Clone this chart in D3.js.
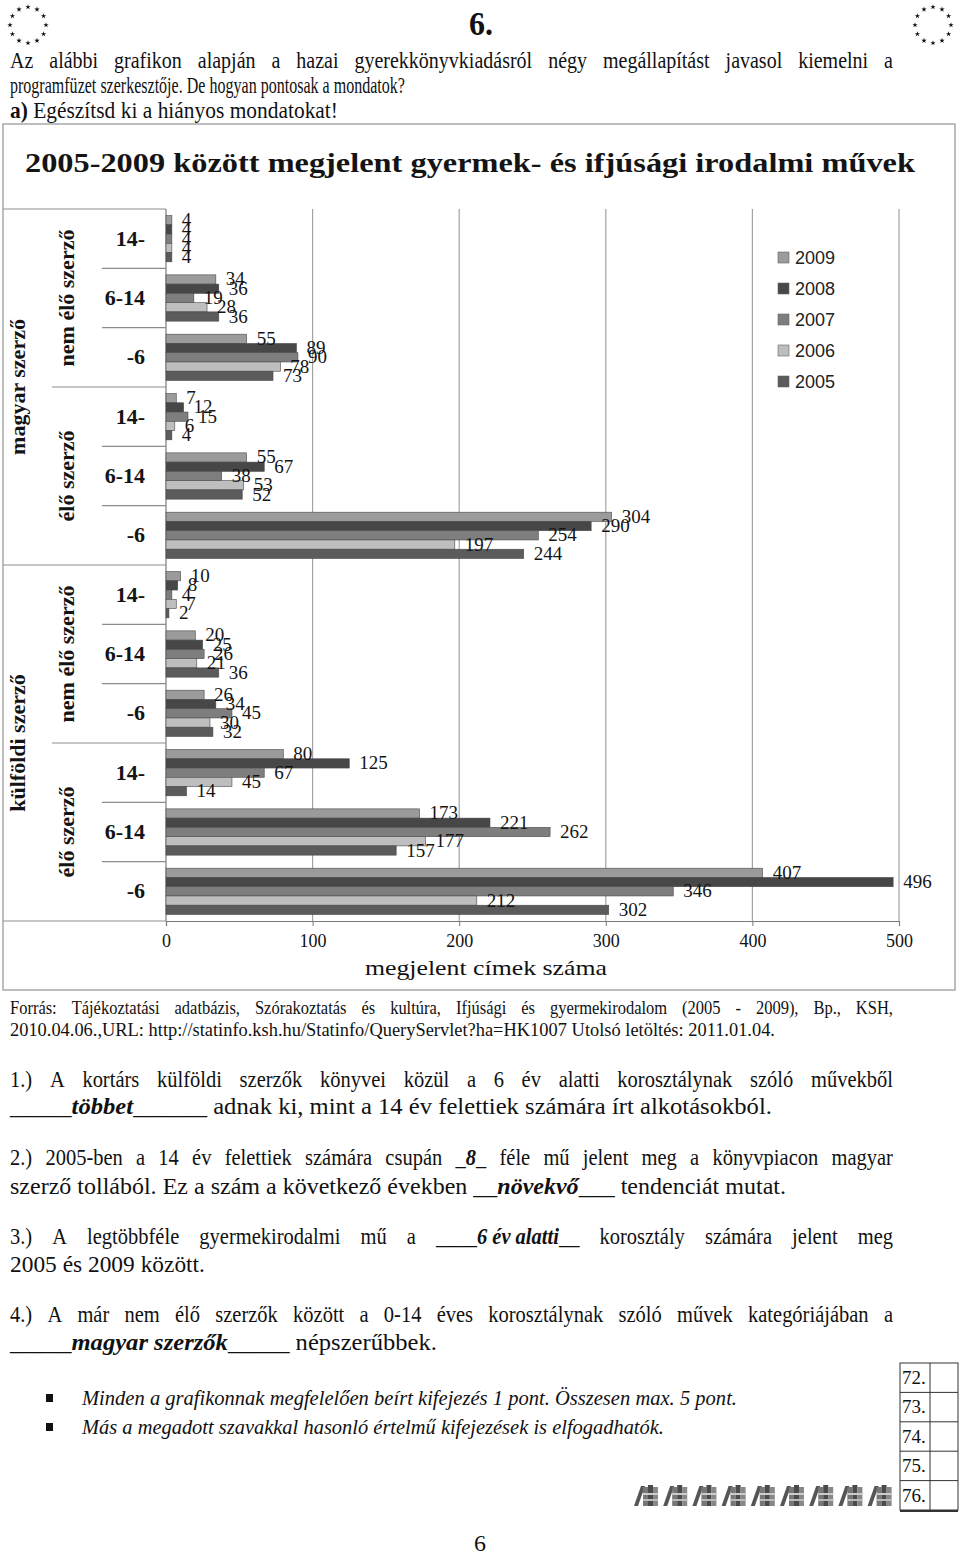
<!DOCTYPE html>
<html><head><meta charset="utf-8">
<script src="https://cdn.jsdelivr.net/npm/d3@7"></script>
<style>body{margin:0;background:#fff}svg{display:block}</style>
</head><body>
<script>
// ---------- data ----------
const years = ["2009", "2008", "2007", "2006", "2005"];
const authorGroups = ["magyar szerző", "külföldi szerző"];
const lifeGroups = ["nem élő szerző", "élő szerző"];
const ageGroups = ["14-", "6-14", "-6"];
// order of rows: magyar/nem élő(14-,6-14,-6), magyar/élő(...), külföldi/nem élő(...), külföldi/élő(...)
const values2009 = [4, 34, 55, 7, 55, 304, 10, 20, 26, 80, 173, 407];
const values2008 = [4, 36, 89, 12, 67, 290, 8, 25, 34, 125, 221, 496];
const values2007 = [4, 19, 90, 15, 38, 254, 4, 26, 45, 67, 262, 346];
const values2006 = [4, 28, 78, 6, 53, 197, 7, 21, 30, 45, 177, 212];
const values2005 = [4, 36, 73, 4, 52, 244, 2, 36, 32, 14, 157, 302];
const xTickValues = [0, 100, 200, 300, 400, 500];
const scoreLabels = ["72.", "73.", "74.", "75.", "76."];

const chartTitle = "2005-2009 között megjelent gyermek- és ifjúsági irodalmi művek";
const axisTitle = "megjelent címek száma";

// ---------- setup ----------
const W = 960, H = 1558;
const serif = "'Liberation Serif','Times New Roman',serif";
const sans = "'Liberation Sans',Arial,sans-serif";
const svg = d3.select("body").append("svg").attr("width", W).attr("height", H);
svg.append("rect").attr("width", W).attr("height", H).attr("fill", "#fff");

const yearColors = d3.scaleOrdinal().domain(years)
  .range(["#9b9b9b", "#474747", "#7e7e7e", "#bebebe", "#5b5b5b"]);
const seriesValues = [values2009, values2008, values2007, values2006, values2005];
const series = years.map((yr, i) => ({ year: yr, values: seriesValues[i] }));

const rows = [];
authorGroups.forEach(a => lifeGroups.forEach(l => ageGroups.forEach(g => rows.push({ a, l, g }))));

// ---------- text helper ----------
function parseWord(w) {
  const parts = [];
  const re = /(\{[^}]*\}|\[[^\]]*\])/;
  w.split(re).forEach(p => {
    if (!p) return;
    if (p[0] === "{") parts.push({ t: p.slice(1, -1).replace(/~/g, " "), b: true, i: true });
    else if (p[0] === "[") parts.push({ t: p.slice(1, -1).replace(/~/g, " "), b: true, i: false });
    else parts.push({ t: p.replace(/~/g, " "), b: false, i: false });
  });
  return parts;
}
function textLine(o) {
  const size = o.size, sy = o.sy || 1;
  const words = o.text.split(" ").map(parseWord);
  const t = svg.append("text")
    .attr("font-family", o.family || serif)
    .attr("font-size", size)
    .attr("font-style", o.italic ? "italic" : "normal")
    .attr("font-weight", o.bold ? "bold" : "normal")
    .attr("fill", o.color || "#111");
  const wordInfo = words.map(parts => {
    const spans = parts.map(p => {
      const s = t.append("tspan").text(p.t);
      if (p.b) s.attr("font-weight", "bold");
      if (p.i) s.attr("font-style", "italic");
      return { s, w: s.node().getComputedTextLength() };
    });
    return { spans, w: d3.sum(spans, d => d.w) };
  });
  const sum = d3.sum(wordInfo, d => d.w);
  const n = wordInfo.length;
  let gap = size * 0.25, sx = 1;
  if (o.justify && n > 1) {
    gap = (o.x1 - o.x0 - sum) / (n - 1);
    if (gap < size * 0.15) { gap = size * 0.15; sx = (o.x1 - o.x0) / (sum + gap * (n - 1)); }
  } else if (o.x1 != null) {
    sx = (o.x1 - o.x0) / (sum + gap * (n - 1));
  }
  let cx = 0;
  wordInfo.forEach(wi => {
    let px = cx;
    wi.spans.forEach(sp => { sp.s.attr("x", px).attr("y", 0); px += sp.w; });
    cx += wi.w + gap;
  });
  t.attr("transform", `translate(${o.x0},${o.y}) scale(${sx},${sy})`);
  return t;
}

// ---------- EU star logos ----------
[[28, 25], [933, 25]].forEach(([cx, cy]) => {
  d3.range(12).forEach(k => {
    const a = k * Math.PI / 6;
    svg.append("path").attr("d", d3.symbol(d3.symbolStar).size(9)())
      .attr("transform", `translate(${cx + 18 * Math.sin(a)},${cy - 18 * Math.cos(a)})`)
      .attr("fill", "#111");
  });
});

// ---------- page header ----------
textLine({ text: "[6.]", x0: 469, x1: 493, y: 35, size: 28, sy: 1.2 });
textLine({ text: "Az alábbi grafikon alapján a hazai gyerekkönyvkiadásról négy megállapítást javasol kiemelni a", x0: 10, x1: 893, y: 68, size: 20, sy: 1.15, justify: true });
textLine({ text: "programfüzet szerkesztője. De hogyan pontosak a mondatok?", x0: 10, x1: 405, y: 93, size: 20, sy: 1.15 });
textLine({ text: "[a)] Egészítsd ki a hiányos mondatokat!", x0: 10, x1: 338, y: 118, size: 20, sy: 1.15 });

// ---------- chart frame ----------
svg.append("rect").attr("x", 3).attr("y", 124).attr("width", 952).attr("height", 866)
  .attr("fill", "#fff").attr("stroke", "#a9a9a9").attr("stroke-width", 1.5);

textLine({ text: chartTitle, x0: 25, x1: 915, y: 172, size: 27, bold: true, color: "#141414" });

// ---------- scales ----------
const x = d3.scaleLinear().domain([0, 500]).range([166, 899]);
const y = d3.scaleBand().domain(d3.range(rows.length)).range([209, 921])
  .paddingInner(0.22).paddingOuter(0.11);
const yy = d3.scaleBand().domain(years).range([0, y.bandwidth()]);
const step = y.step();
const rowTop = i => 209 + i * step;

// gridlines
svg.append("g").selectAll("line").data(xTickValues.filter(v => v > 0)).join("line")
  .attr("x1", d => x(d)).attr("x2", d => x(d)).attr("y1", 209).attr("y2", 921)
  .attr("stroke", "#a3a3a3").attr("stroke-width", 1.2);

// x axis
const xAxis = svg.append("g").attr("transform", "translate(0,921)")
  .call(d3.axisBottom(x).tickValues(xTickValues).tickSize(5).tickPadding(8).tickFormat(d3.format("d")));
xAxis.select(".domain").attr("stroke", "#7a7a7a").attr("stroke-width", 1.2);
xAxis.selectAll(".tick line").attr("stroke", "#7a7a7a");
xAxis.selectAll("text").attr("font-family", serif).attr("font-size", 18).attr("fill", "#111");

textLine({ text: axisTitle, x0: 365, x1: 607, y: 975, size: 22, color: "#111" });

// left category table lines
const tbl = svg.append("g").attr("stroke", "#8d8d8d").attr("stroke-width", 1.2);
tbl.append("line").attr("x1", 3).attr("x2", 166).attr("y1", 209).attr("y2", 209);
tbl.append("line").attr("x1", 3).attr("x2", 166).attr("y1", 921).attr("y2", 921);
tbl.append("line").attr("x1", 166).attr("x2", 166).attr("y1", 209).attr("y2", 921).attr("stroke", "#7a7a7a");
d3.range(1, rows.length).forEach(i => {
  const x1 = i % 6 === 0 ? 3 : (i % 3 === 0 ? 52 : 102);
  tbl.append("line").attr("x1", x1).attr("x2", 166).attr("y1", rowTop(i)).attr("y2", rowTop(i));
});

// category labels
svg.append("g").selectAll("text").data(rows).join("text")
  .attr("x", 145).attr("y", (d, i) => y(i) + y.bandwidth() / 2 + 7)
  .attr("text-anchor", "end").attr("font-family", serif).attr("font-weight", "bold")
  .attr("font-size", 22).attr("fill", "#141414").text(d => d.g);

// subgroup labels (rotated)
const subCenters = d3.range(4).map(k => ({ label: lifeGroups[k % 2], cy: rowTop(k * 3) + step * 1.5 }));
svg.append("g").selectAll("text").data(subCenters).join("text")
  .attr("transform", d => `translate(74,${d.cy}) rotate(-90)`)
  .attr("text-anchor", "middle").attr("font-family", serif).attr("font-weight", "bold")
  .attr("font-size", 22).attr("fill", "#141414").text(d => d.label);
const grpCenters = authorGroups.map((g, k) => ({ label: g, cy: rowTop(k * 6) + step * 3 }));
svg.append("g").selectAll("text").data(grpCenters).join("text")
  .attr("transform", d => `translate(25,${d.cy}) rotate(-90)`)
  .attr("text-anchor", "middle").attr("font-family", serif).attr("font-weight", "bold")
  .attr("font-size", 22).attr("fill", "#141414").text(d => d.label);

// bars
const barG = svg.append("g");
series.forEach(s => {
  barG.append("g").selectAll("rect").data(s.values).join("rect")
    .attr("x", x(0)).attr("y", (d, i) => y(i) + yy(s.year))
    .attr("width", d => x(d) - x(0)).attr("height", yy.bandwidth())
    .attr("fill", yearColors(s.year)).attr("stroke", "#4a4a4a").attr("stroke-width", 0.6);
});
// data labels
const labG = svg.append("g").attr("font-family", serif).attr("font-size", 19).attr("fill", "#141414");
series.forEach(s => {
  labG.append("g").selectAll("text").data(s.values).join("text")
    .attr("x", d => x(d) + 10).attr("y", (d, i) => y(i) + yy(s.year) + yy.bandwidth() / 2 + 6)
    .text(d => d);
});

// legend
const leg = svg.append("g").selectAll("g").data(years).join("g")
  .attr("transform", (d, i) => `translate(778,${258 + i * 31})`);
leg.append("rect").attr("x", 0).attr("y", -6).attr("width", 11).attr("height", 11)
  .attr("fill", d => yearColors(d)).attr("stroke", "#666").attr("stroke-width", 0.6);
leg.append("text").attr("x", 17).attr("y", 6).attr("font-family", sans).attr("font-size", 18)
  .attr("fill", "#222").text(d => d);

// ---------- source + questions ----------
textLine({ text: "Forrás: Tájékoztatási adatbázis, Szórakoztatás és kultúra, Ifjúsági és gyermekirodalom (2005 - 2009), Bp., KSH,", x0: 10, x1: 893, y: 1014, size: 16.5, sy: 1.15, justify: true });
textLine({ text: "2010.04.06.,URL: http://statinfo.ksh.hu/Statinfo/QueryServlet?ha=HK1007 Utolsó letöltés: 2011.01.04.", x0: 10, x1: 775, y: 1036, size: 16.5, sy: 1.15 });

const qSize = 20.5, qSy = 1.15;
textLine({ text: "1.) A kortárs külföldi szerzők könyvei közül a 6 év alatti korosztálynak szóló művekből", x0: 10, x1: 893, y: 1087, size: qSize, sy: qSy, justify: true });
textLine({ text: "_____{többet}______ adnak ki, mint a 14 év felettiek számára írt alkotásokból.", x0: 10, x1: 772, y: 1114, size: qSize, sy: qSy });
textLine({ text: "2.) 2005-ben a 14 év felettiek számára csupán _{8}_ féle mű jelent meg a könyvpiacon magyar", x0: 10, x1: 893, y: 1165, size: qSize, sy: qSy, justify: true });
textLine({ text: "szerző tollából. Ez a szám a következő években __{növekvő}___ tendenciát mutat.", x0: 10, x1: 786, y: 1194, size: qSize, sy: qSy });
textLine({ text: "3.) A legtöbbféle gyermekirodalmi mű a ____{6~év~alatti}__ korosztály számára jelent meg", x0: 10, x1: 893, y: 1244, size: qSize, sy: qSy, justify: true });
textLine({ text: "2005 és 2009 között.", x0: 10, x1: 205, y: 1272, size: qSize, sy: qSy });
textLine({ text: "4.) A már nem élő szerzők között a 0-14 éves korosztálynak szóló művek kategóriájában a", x0: 10, x1: 893, y: 1322, size: qSize, sy: qSy, justify: true });
textLine({ text: "_____{magyar~szerzők}_____ népszerűbbek.", x0: 10, x1: 437, y: 1350, size: qSize, sy: qSy });

// bullets
[1398, 1427].forEach(cy => svg.append("rect").attr("x", 46).attr("y", cy - 4).attr("width", 7).attr("height", 8).attr("fill", "#111"));
textLine({ text: "Minden a grafikonnak megfelelően beírt kifejezés 1 pont. Összesen max. 5 pont.", x0: 82, x1: 737, y: 1405, size: 19, sy: 1.15, italic: true });
textLine({ text: "Más a megadott szavakkal hasonló értelmű kifejezések is elfogadhatók.", x0: 82, x1: 664, y: 1434, size: 19, sy: 1.15, italic: true });

// score box
const boxTop = 1363, rowH = 29.4;
const sb = svg.append("g").attr("stroke", "#333").attr("stroke-width", 1).attr("fill", "none");
sb.append("rect").attr("x", 900).attr("y", boxTop).attr("width", 58).attr("height", rowH * 5);
sb.append("line").attr("x1", 930).attr("x2", 930).attr("y1", boxTop).attr("y2", boxTop + rowH * 5);
d3.range(1, 5).forEach(i => sb.append("line").attr("x1", 900).attr("x2", 958).attr("y1", boxTop + i * rowH).attr("y2", boxTop + i * rowH));
sb.append("line").attr("x1", 900).attr("x2", 958).attr("y1", boxTop + rowH * 5 + 1).attr("y2", boxTop + rowH * 5 + 1).attr("stroke-width", 2);
svg.append("g").selectAll("text").data(scoreLabels).join("text")
  .attr("x", 902).attr("y", (d, i) => boxTop + i * rowH + 21)
  .attr("font-family", serif).attr("font-size", 19).attr("fill", "#111").text(d => d);

// book icons
d3.range(9).forEach(k => {
  const bx = 634 + k * 29.2, by = 1485;
  const g = svg.append("g").attr("transform", `translate(${bx},${by})`);
  g.append("path").attr("d", "M0,21 L7,1 L11,1 L4,21 Z").attr("fill", "#555");
  g.append("rect").attr("x", 9).attr("y", 2).attr("width", 5).attr("height", 19).attr("fill", "#777");
  g.append("rect").attr("x", 14).attr("y", 0).attr("width", 5).attr("height", 21).attr("fill", "#4a4a4a");
  g.append("rect").attr("x", 19).attr("y", 2).attr("width", 5).attr("height", 19).attr("fill", "#888");
  g.append("rect").attr("x", 9).attr("y", 8).attr("width", 15).attr("height", 2).attr("fill", "#ccc");
  g.append("rect").attr("x", 9).attr("y", 14).attr("width", 15).attr("height", 2).attr("fill", "#bbb");
});

// page number
textLine({ text: "6", x0: 474, x1: 486, y: 1551, size: 21, sy: 1.1 });
</script>
</body></html>
